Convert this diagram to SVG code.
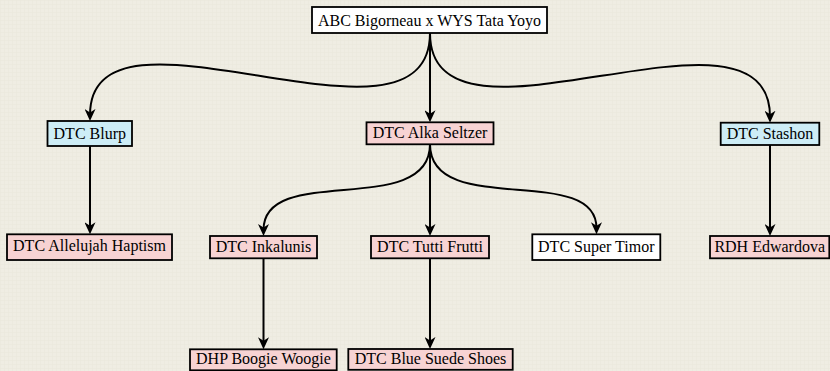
<svg xmlns="http://www.w3.org/2000/svg" width="830" height="371" viewBox="0 0 830 371">
<defs>
<style>
.bx{stroke:#000;stroke-width:1.8}
.pink{fill:#f7d3d3}
.blue{fill:#cdedf6}
.white{fill:#fff}
text{font-family:"Liberation Serif","Times New Roman",serif;font-size:16px;fill:#000;text-anchor:middle}
.edge{fill:none;stroke:#000;stroke-width:2;marker-end:url(#arr)}
</style>
<marker id="arr" markerUnits="userSpaceOnUse" viewBox="0 0 12 11" markerWidth="12" markerHeight="11" refX="6" refY="5.5" orient="auto">
<path d="M0,0 L12,5.5 L0,11 L3.5,5.5 Z" fill="#000"/>
</marker>
<pattern id="tex" width="4" height="4" patternUnits="userSpaceOnUse">
<rect width="4" height="4" fill="#efede3"/>
<rect width="4" height="1" fill="#e9e7dc" opacity="0.5"/>
<rect width="1" height="4" fill="#e9e7dc" opacity="0.5"/>
</pattern>
</defs>
<rect width="830" height="371" fill="url(#tex)"/>
<g id="connectors">
<path class="edge" d="M430,33 C430,172 90,-19 90,115"/>
<path class="edge" d="M430,33 C430,172 770,-19 770,116.7"/>
<path class="edge" d="M430,33 V116.3"/>
<path class="edge" d="M430,144.3 C430,219 263.5,162 263.5,230"/>
<path class="edge" d="M430,144.3 V230"/>
<path class="edge" d="M430,144.3 C430,219 596.5,162 596.5,228.3"/>
<path class="edge" d="M90,146 V228.3"/>
<path class="edge" d="M770,145 V230"/>
<path class="edge" d="M263.5,258.3 V343.3"/>
<path class="edge" d="M430,258.3 V343"/>
</g>
<g id="n-top"><rect class="bx white" x="312" y="7" width="235" height="26" stroke-width="2.2"/><text x="429.5" y="25.5">ABC Bigorneau x WYS Tata Yoyo</text></g>
<g id="n-blurp"><rect class="bx blue" x="47.5" y="121" width="84.5" height="25"/><text x="89.8" y="139">DTC Blurp</text></g>
<g id="n-alka"><rect class="bx pink" x="366.5" y="122.3" width="127" height="22"/><text x="430" y="138.3">DTC Alka Seltzer</text></g>
<g id="n-stashon"><rect class="bx blue" x="720.7" y="122.7" width="98.6" height="22.3"/><text x="770" y="138.8">DTC Stashon</text></g>
<g id="n-allelujah"><rect class="bx pink" x="7" y="234.3" width="165" height="25.7"/><text x="89.5" y="251">DTC Allelujah Haptism</text></g>
<g id="n-inkalunis"><rect class="bx pink" x="210" y="236" width="107" height="22.3"/><text x="263.5" y="252.3">DTC Inkalunis</text></g>
<g id="n-tutti"><rect class="bx pink" x="371" y="236" width="118" height="22.3"/><text x="430" y="252.3">DTC Tutti Frutti</text></g>
<g id="n-timor"><rect class="bx white" x="532.3" y="234.3" width="128" height="25.7"/><text x="596.3" y="251.5">DTC Super Timor</text></g>
<g id="n-rdh"><rect class="bx pink" x="710" y="236" width="119.3" height="22.3"/><text x="769.7" y="252.3">RDH Edwardova</text></g>
<g id="n-boogie"><rect class="bx pink" x="190" y="349.3" width="146.7" height="21"/><text x="263.4" y="364.3">DHP Boogie Woogie</text></g>
<g id="n-suede"><rect class="bx pink" x="348.3" y="349" width="164.4" height="20.8"/><text x="430.5" y="364.3">DTC Blue Suede Shoes</text></g>
</svg>
